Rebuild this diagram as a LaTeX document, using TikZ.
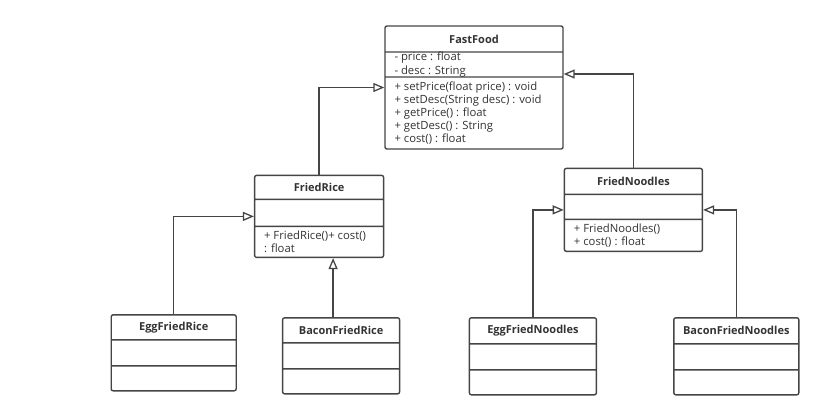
\documentclass[tikz,border=0pt]{standalone}
\usepackage{fontspec}
\setmainfont{Open Sans}
\usetikzlibrary{shapes.multipart, arrows.meta, positioning}
\definecolor{umlline}{HTML}{454545}
\definecolor{umltext}{HTML}{333333}
\tikzstyle{umlclass} = [rectangle split, rectangle split parts=3, draw=umlline, line width=1.4pt, rounded corners=2pt, inner xsep=0pt, inner ysep=0pt, text=umltext, font=\fontsize{11.3}{13.2}\selectfont]
\tikzstyle{inherit} = [draw=umlline, line width=1.3pt, -{Triangle[open, length=11pt, width=9pt]}]
\newcommand{\classtitle}[3]{\parbox[c][\dimexpr#2-1.4pt\relax][c]{#1}{\centering\fontsize{11}{13}\selectfont\bfseries #3}}
\newcommand{\classbody}[3]{\parbox[c][\dimexpr#2-1.4pt\relax][c]{#1}{\raggedright\leftskip=9.5pt #3}}

\begin{document}
\begin{tikzpicture}[node distance = 18pt]
	\useasboundingbox (0,0) rectangle (837pt,-402pt);
	\node (FastFood) [umlclass] at (474pt,-87.5pt) {\classtitle{178pt}{26pt}{FastFood}
		\nodepart{two}\classbody{178pt}{25pt}{- price : float\\- desc : String}
		\nodepart{three}\classbody{178pt}{72pt}{+ setPrice(float price) : void\\+ setDesc(String desc) : void\\+ getPrice() : float\\+ getDesc() : String\\+ cost() : float}};
	\node (FriedRice) [umlclass, below = 25pt of FastFood.south west, anchor=north east] {\classtitle{129pt}{24pt}{FriedRice}
		\nodepart{two}\classbody{129pt}{27pt}{}
		\nodepart{three}\classbody{129pt}{31pt}{+ FriedRice()+ cost()\\: float}};
	\node (FriedNoodles) [umlclass, below = of FastFood.south east, anchor=north west] {\classtitle{138pt}{26pt}{FriedNoodles}
		\nodepart{two}\classbody{138pt}{25pt}{}
		\nodepart{three}\classbody{138pt}{32pt}{+ FriedNoodles()\\+ cost() : float}};
	\node (EggFriedRice) [umlclass, below left = 56pt and 17pt of FriedRice.south west, anchor=north east] {\classtitle{125pt}{25pt}{EggFriedRice}
		\nodepart{two}\classbody{125pt}{26pt}{}
		\nodepart{three}\classbody{125pt}{25pt}{}};
	\node (BaconFriedRice) [umlclass, below right = 59pt and 28pt of FriedRice.south west, anchor=north west] {\classtitle{117pt}{25pt}{BaconFriedRice}
		\nodepart{two}\classbody{117pt}{26pt}{}
		\nodepart{three}\classbody{117pt}{25pt}{}};
	\node (EggFriedNoodles) [umlclass, below left = 65pt and 95pt of FriedNoodles.south west, anchor=north west] {\classtitle{127pt}{26pt}{EggFriedNoodles}
		\nodepart{two}\classbody{127pt}{26pt}{}
		\nodepart{three}\classbody{127pt}{25pt}{}};
	\node (BaconFriedNoodles) [umlclass, below left = 65pt and 30pt of FriedNoodles.south east, anchor=north west] {\classtitle{125pt}{26pt}{BaconFriedNoodles}
		\nodepart{two}\classbody{125pt}{26pt}{}
		\nodepart{three}\classbody{125pt}{25pt}{}};
	% generalisation arrows
	\draw [inherit] (FriedRice.north) |- (FastFood.west);
	\draw [inherit] (FriedNoodles.north) |- ([yshift=13.5pt]FastFood.east);
	\draw [inherit] (EggFriedRice.north) |- (FriedRice.west);
	\draw [inherit] ([xshift=-8pt]BaconFriedRice.north) -- ([xshift=-8pt]BaconFriedRice.north |- FriedRice.south);
	\draw [inherit] (EggFriedNoodles.north) |- (FriedNoodles.west);
	\draw [inherit] (BaconFriedNoodles.north) |- (FriedNoodles.east);
\end{tikzpicture}
\end{document}
